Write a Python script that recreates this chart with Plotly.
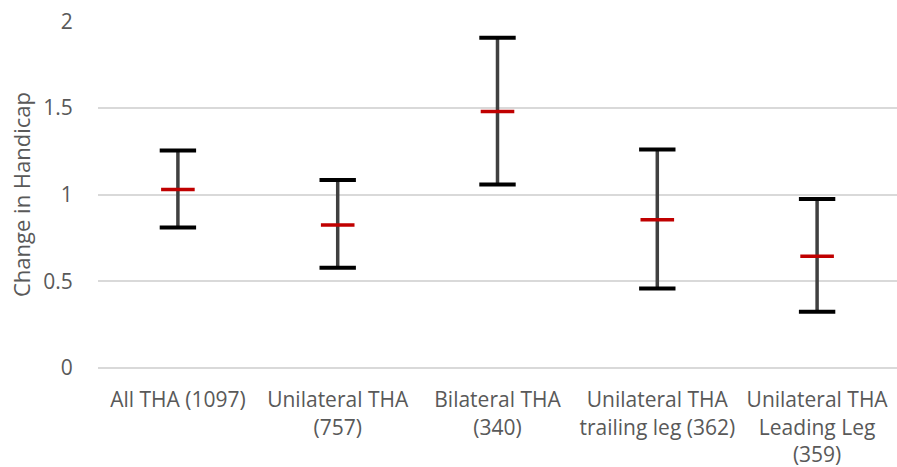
import plotly.graph_objects as go

categories = ["All THA (1097)", "Unilateral THA<br>(757)", "Bilateral THA<br>(340)",
              "Unilateral THA<br>trailing leg (362)", "Unilateral THA<br>Leading Leg<br>(359)"]
means = [1.03, 0.825, 1.48, 0.855, 0.645]
upper = [1.255, 1.085, 1.905, 1.26, 0.975]
lower = [0.81, 0.578, 1.058, 0.458, 0.325]

err_plus = [u - m for u, m in zip(upper, means)]
err_minus = [m - l for m, l in zip(means, lower)]

fig = go.Figure()
# vertical whisker line
fig.add_trace(go.Scatter(
    x=categories, y=means, mode="markers",
    marker=dict(size=1, color="rgba(0,0,0,0)"),
    error_y=dict(type="data", symmetric=False, array=err_plus, arrayminus=err_minus,
                 color="#404040", thickness=3.5, width=0),
    showlegend=False, hoverinfo="skip"))
# caps
fig.add_trace(go.Scatter(
    x=categories + categories, y=upper + lower, mode="markers",
    marker=dict(symbol="line-ew", size=26, line=dict(color="black", width=4)),
    showlegend=False))
# mean marker
fig.add_trace(go.Scatter(
    x=categories, y=means, mode="markers",
    marker=dict(symbol="line-ew", size=24, line=dict(color="#C00000", width=3.5)),
    showlegend=False))

fig.update_layout(
    width=897, height=467,
    margin=dict(l=98, r=0, t=21, b=99),
    plot_bgcolor="white", paper_bgcolor="white",
    font=dict(family="Open Sans", color="#595959", size=21),
)
fig.update_xaxes(range=[-0.5, 4.5], showgrid=False, showline=False, automargin=False,
                 ticks="outside", ticklen=13, tickcolor="rgba(0,0,0,0)",
                 tickfont=dict(size=21))
fig.update_yaxes(range=[0, 2.002], tickvals=[0, 0.5, 1, 1.5, 2],
                 ticktext=["0", "0.5", "1", "1.5", "2"], automargin=False,
                 showgrid=True, gridcolor="#D9D9D9", gridwidth=1.5,
                 zeroline=True, zerolinecolor="#D9D9D9", zerolinewidth=1.5,
                 ticks="outside", ticklen=20, tickcolor="rgba(0,0,0,0)",
                 tickfont=dict(size=21),
                 title=dict(text="Change in Handicap", font=dict(size=22), standoff=6))
fig.write_html("out.html", config={"displayModeBar": False},
               post_script="document.body.style.margin='0';document.body.style.overflow='hidden';")
